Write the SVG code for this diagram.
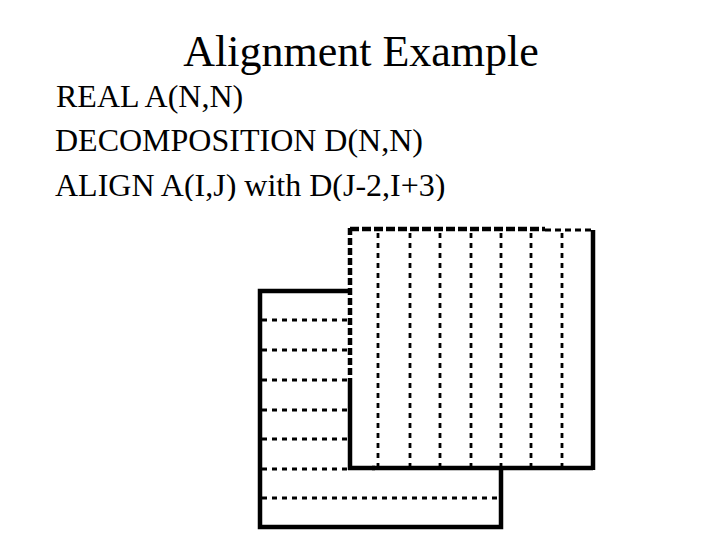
<svg xmlns="http://www.w3.org/2000/svg" width="720" height="540" viewBox="0 0 720 540">
<style>
.t{font-family:"Liberation Serif","Times New Roman",serif;fill:#000}
.frame{fill:#fff;stroke:#000;stroke-width:4.5}
.hd{stroke:#000;stroke-width:3;stroke-dasharray:5 5;fill:none}
.vd{stroke:#000;stroke-width:2.8;stroke-dasharray:5 5;fill:none}
</style>
<defs><clipPath id="c3"><rect x="0" y="150" width="720" height="51"/></clipPath></defs>
<rect width="720" height="540" fill="#fff"/>
<g id="title"><text class="t" x="361" y="66" font-size="44" text-anchor="middle">Alignment Example</text></g>
<g id="code">
<text class="t" x="56" y="106.5" font-size="32">REAL A(N,N)</text>
<text class="t" x="55" y="150.5" font-size="32">DECOMPOSITION D(N,N)</text>
<text class="t" x="55" y="196" font-size="32" clip-path="url(#c3)">ALIGN A(I,J) with D(J-2,I+3)</text>
</g>
<g id="arrayA">
<rect class="frame" x="260" y="291" width="241" height="236"/>
<path class="hd" d="M262 320H348M262 350H348M262 380H348M262 410H348M262 439H348M262 469H348M262 498H499"/>
</g>
<g id="decompD">
<rect x="350" y="229" width="243" height="239" fill="#fff"/>
<path d="M350 229H545" stroke="#000" stroke-width="4.5" stroke-dasharray="9 3"/>
<path d="M545 230H593" stroke="#000" stroke-width="3" stroke-dasharray="6 4"/>
<path d="M593 230V470M593 468H372" stroke="#000" stroke-width="4.5" fill="none"/>
<path d="M350 228V384" stroke="#000" stroke-width="4.5" stroke-dasharray="7 3"/>
<path d="M350 384V470M348 468H375" stroke="#000" stroke-width="4.5" fill="none"/>
<path class="vd" d="M378 233V468M410 233V468M440 233V468M471 233V468M501 233V474M531 233V468M562 233V468"/>
</g>
</svg>
